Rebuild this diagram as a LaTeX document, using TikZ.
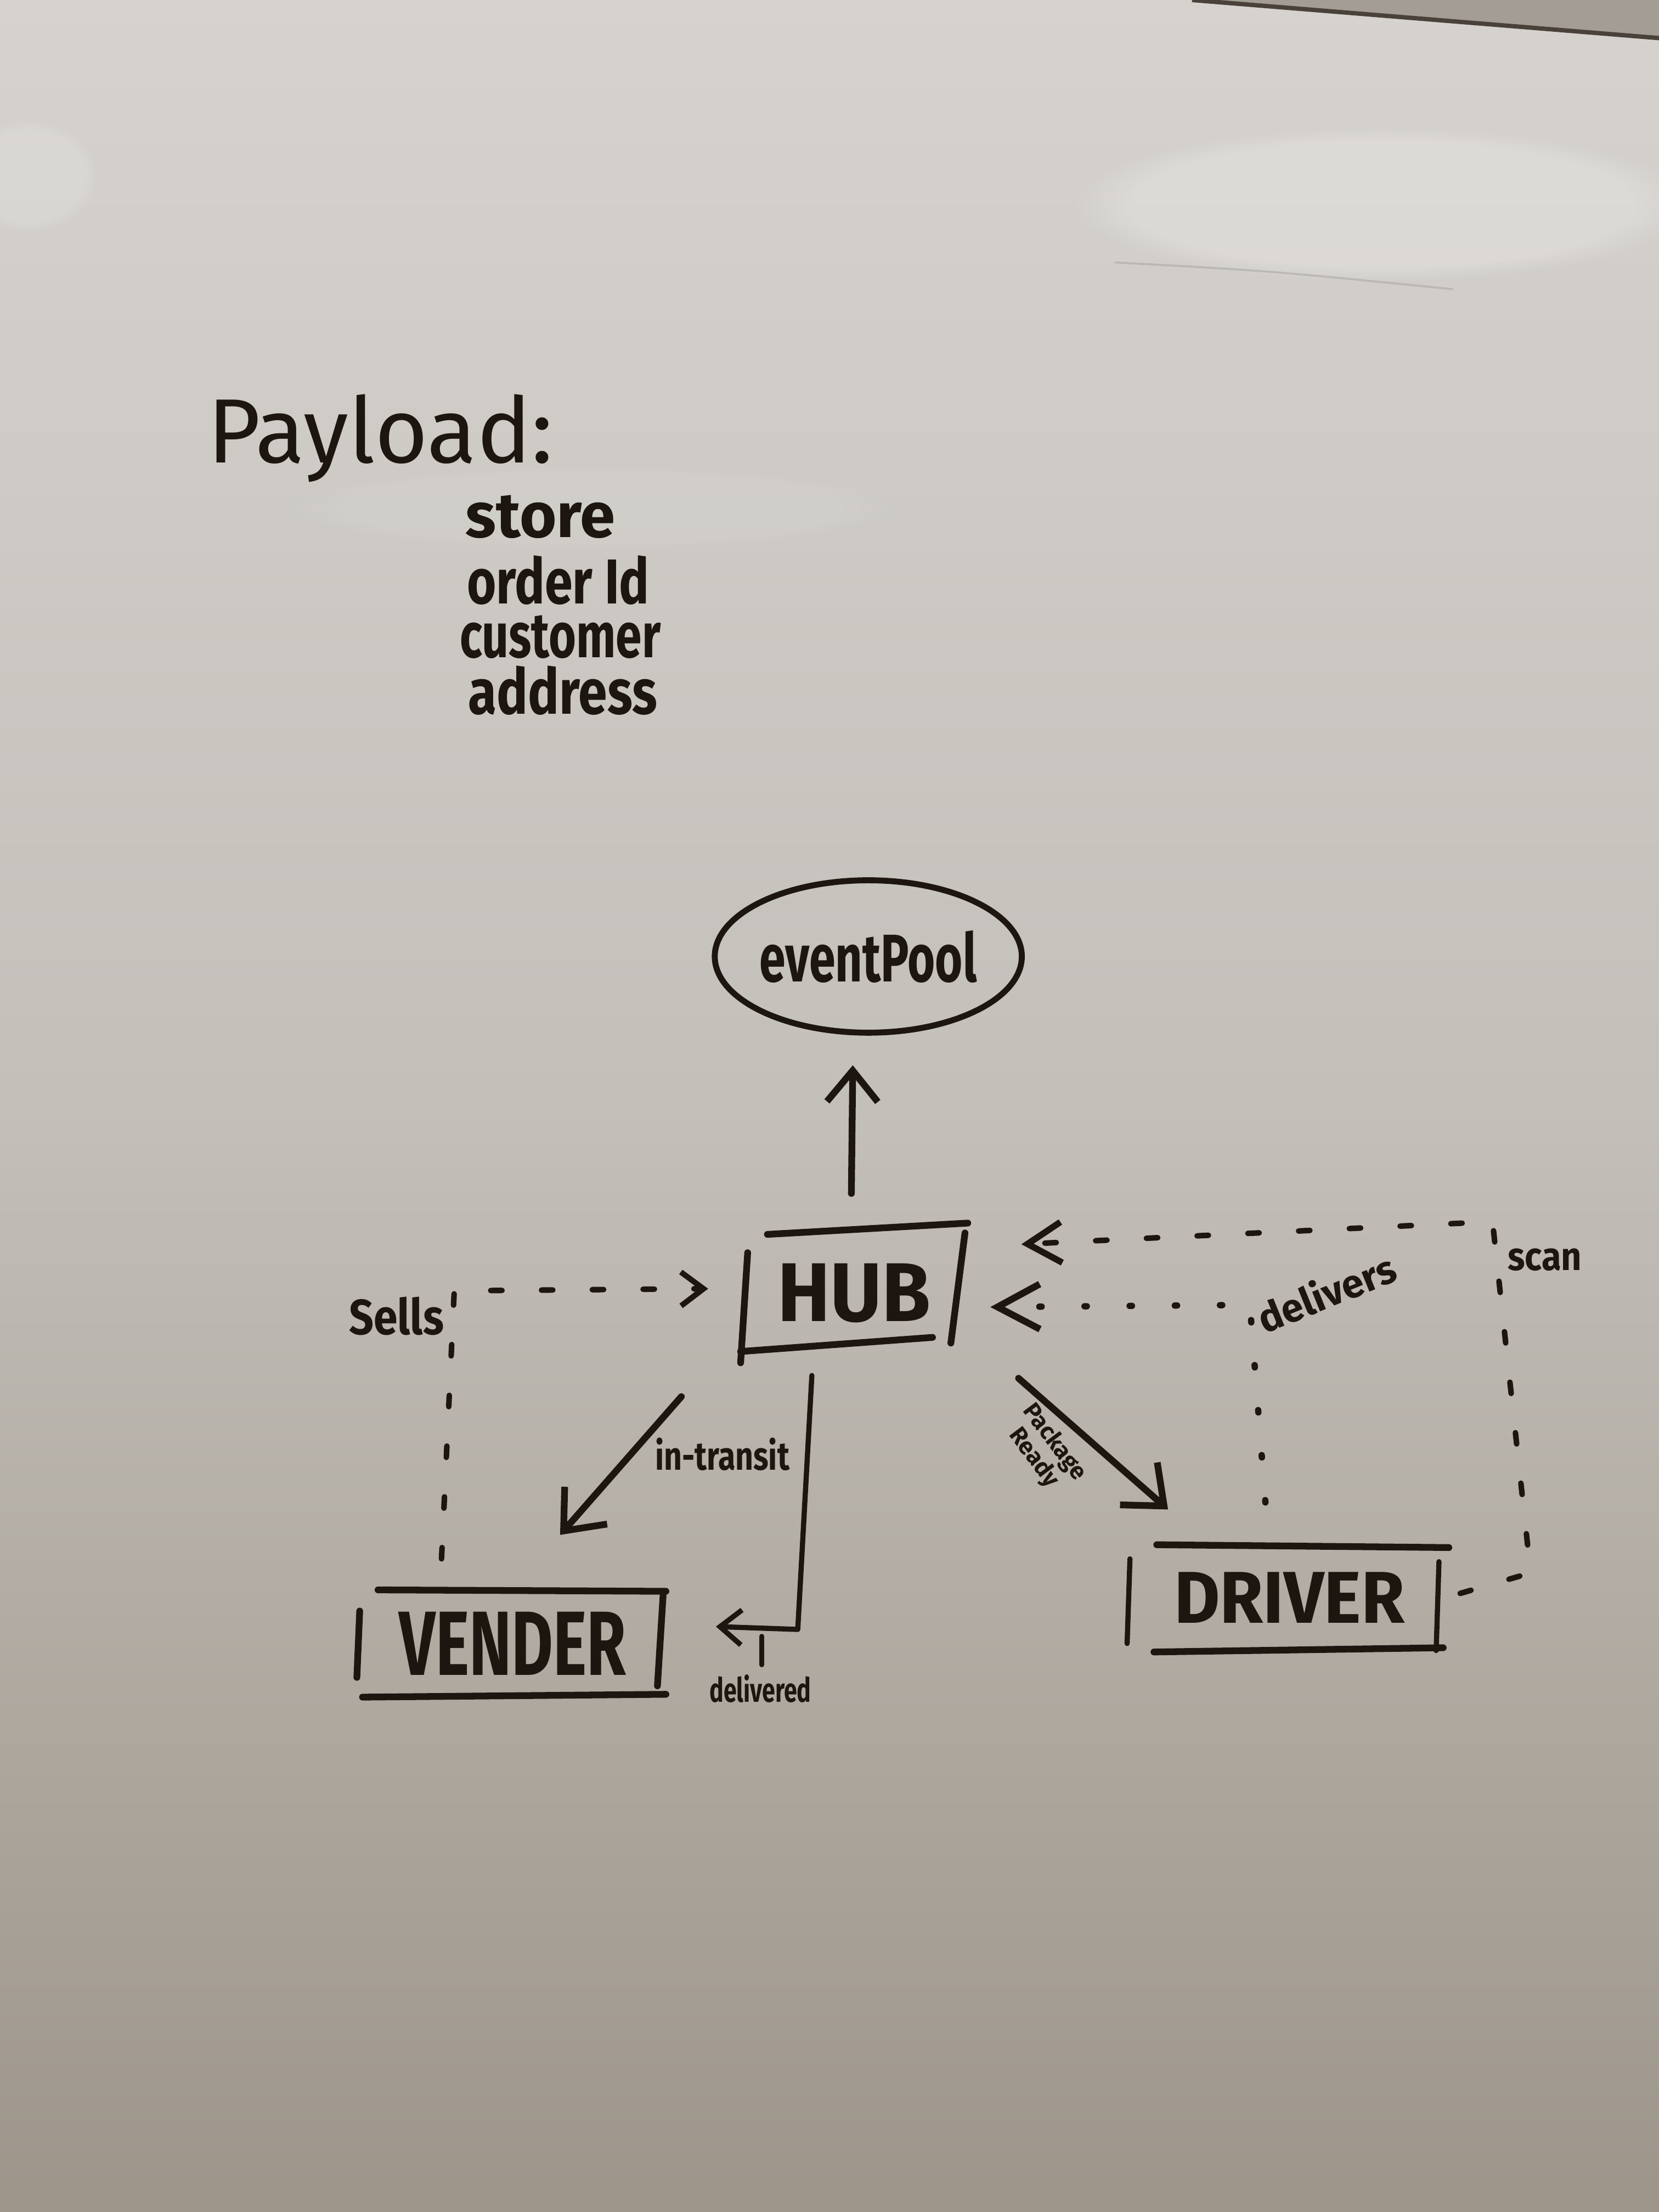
\documentclass[tikz,border=0pt]{standalone}
\usepackage{fontspec}
\setmainfont{Fira Sans}
\usepackage{graphicx}
\usetikzlibrary{arrows.meta,calc,shapes.geometric,fadings}
\definecolor{ink}{HTML}{1D1610}
\definecolor{boardtop}{HTML}{D6D3CF}
\definecolor{boardmid}{HTML}{C3BFB9}
\definecolor{boardbot}{HTML}{9D958A}
\definecolor{wall}{HTML}{A39D95}
\definecolor{frameline}{HTML}{4A423A}
\begin{document}
\begin{tikzpicture}[x=0.025cm,y=-0.025cm,
  pen/.style={draw=ink,line width=3.4pt,line cap=round,line join=round},
  thinpen/.style={draw=ink,line width=2.6pt,line cap=round,line join=round},
  dashline/.style={draw=ink,line width=2.8pt,line cap=round,dash pattern=on 0.2cm off 0.7cm},
  dotline/.style={draw=ink,line width=3.2pt,line cap=round,dash pattern=on 0.04cm off 0.76cm},
  bigtip/.style={-{Straight Barb[length=0.6cm,width=1.0cm]}},
  smalltip/.style={-{Straight Barb[length=0.38cm,width=0.62cm]}},
  boxnode/.style={inner sep=0pt,outer sep=0pt,text=ink},
  word/.style={text=ink,inner sep=0pt,outer sep=0pt},
]
% whiteboard background
\fill[top color=boardtop,bottom color=boardbot,middle color=boardmid] (0,0) rectangle (1176,1568);
\useasboundingbox (0,0) rectangle (1176,1568);
\fill[wall] (845,0) -- (1176,0) -- (1176,27) -- cycle;
\draw[frameline,line width=2.2pt] (845,0) -- (1176,27);
\fill[white,opacity=0.22,path fading=circle with fuzzy edge 20 percent] (980,145) ellipse (220 and 55);
\fill[white,opacity=0.15,path fading=circle with fuzzy edge 20 percent] (20,125) ellipse (50 and 40);
\fill[white,opacity=0.08,path fading=circle with fuzzy edge 20 percent] (420,360) ellipse (220 and 30);
\draw[frameline!60,opacity=0.35,line width=1pt] (790,186) .. controls (900,192) .. (1030,205);

% Payload text
\node[word,anchor=base west,font=\fontsize{46}{50}\selectfont] (payload) at (147,328) {Payload:};
\node[word,anchor=base west,font=\fontsize{32}{36}\selectfont\bfseries] (store) at (330,381) {store};
\node[word,anchor=base west,font=\fontsize{32}{36}\selectfont\bfseries] (order) at (331,428) {\scalebox{0.79}[1]{order Id}};
\node[word,anchor=base west,font=\fontsize{32}{36}\selectfont\bfseries] (customer) at (326,466) {\scalebox{0.74}[1]{customer}};
\node[word,anchor=base west,font=\fontsize{32}{36}\selectfont\bfseries] (address) at (332,506) {\scalebox{0.82}[1]{address}};

% main nodes
\node[ellipse,draw=ink,line width=3pt,minimum width=5.425cm,minimum height=2.7cm,inner sep=0pt,text=ink,
      font=\fontsize{34}{38}\selectfont\bfseries] (pool) at (615.5,678) {\scalebox{0.7}[1]{eventPool}};

\node[boxnode,minimum width=4.025cm,minimum height=2.475cm,font=\fontsize{42}{46}\selectfont\bfseries] (hub) at (605.5,916.5) {\scalebox{0.95}[1]{HUB}};
\draw[pen] ($(hub.north west)+(19,8)$) -- (hub.north east);
\draw[pen] ($(hub.north west)+(5,21)$) -- (hub.south west);
\draw[pen] ($(hub.south west)+(0,-8)$) -- ($(hub.south east)+(-25,-18)$);
\draw[pen] ($(hub.north east)+(-2,7)$) -- ($(hub.south east)+(-12,-14)$);

\node[boxnode,minimum width=5.425cm,minimum height=1.9cm,font=\fontsize{46}{50}\selectfont\bfseries] (vender) at (363.5,1165) {\scalebox{0.7}[1]{VENDER}};
\draw[pen] ($(vender.north west)+(13,0)$) -- ($(vender.north east)+(0,1)$);
\draw[pen] ($(vender.north west)+(0,15)$) -- ($(vender.south west)+(-2,-14)$);
\draw[pen] ($(vender.south west)+(2,0)$) -- ($(vender.south east)+(0,-2)$);
\draw[pen] ($(vender.north east)+(-2,4)$) -- ($(vender.south east)+(-6,-8)$);

\node[boxnode,minimum width=5.65cm,minimum height=1.925cm,font=\fontsize{37}{40}\selectfont\bfseries] (driver) at (914,1132.5) {\scalebox{0.96}[1]{DRIVER}};
\draw[pen] ($(driver.north west)+(19,1)$) -- ($(driver.north east)+(0,3)$);
\draw[thinpen] ($(driver.north west)+(0,11)$) -- ($(driver.south west)+(-2,-6)$);
\draw[pen] ($(driver.south west)+(17,0)$) -- ($(driver.south east)+(-4,-3)$);
\draw[thinpen] ($(driver.north east)+(-7,13)$) -- ($(driver.south east)+(-9,-1)$);

% helper coordinates
\coordinate (sellsCorner) at (322,915);
\coordinate (delivCorner) at (565.5,1155);
\coordinate (delivEnd) at (507.5,1153);
\coordinate (dvCorner) at (886,925);
\coordinate (scanA) at (1085,1115);
\coordinate (scanB) at (1058,866);

% connectors
\draw[pen,-{Straight Barb[length=0.55cm,width=0.9cm]}] ($(hub.north)+(-2,-21)$) -- ($(pool.south)+(-11,21)$);
\draw[pen,bigtip] ($(hub.south west)+(-42,24)$) -- ($(vender.north east)+(-75,-39)$);
\draw[thinpen,smalltip] ($(hub.south)+(-30,9)$) -- (delivCorner) -- (delivEnd);
\draw[thinpen] (540,1160) -- (540,1180);
\draw[pen,bigtip] ($(hub.south east)+(36,11)$) -- ($(driver.north west)+(27,-24)$);
\draw[dashline,-{Straight Barb[length=0.4cm,width=0.6cm,line width=2.8pt]}] ($(vender.north west)+(58,-22)$) -- (sellsCorner) -- ($(hub.west)+(-23,-3)$);
\draw[dotline,-{Straight Barb[length=0.75cm,width=0.8cm,line width=3.4pt]}] ($(driver.north)+(-17,-29)$) -- (dvCorner) -- ($(hub.east)+(16,10)$);
\draw[dashline,-{Straight Barb[length=0.6cm,width=0.72cm,line width=3.2pt]}] ($(driver.east)+(8,-3)$) -- (scanA) -- (scanB) -- ($(hub.north east)+(38,15)$);

% connector labels
\node[word,font=\fontsize{25}{28}\selectfont\bfseries] (sells) at (281,933) {\scalebox{0.87}[1]{Sells}};
\node[word,font=\fontsize{20}{23}\selectfont\bfseries] (intransit) at (512,1031) {\scalebox{0.79}[1]{in-transit}};
\node[word,font=\fontsize{17}{20}\selectfont\bfseries] (delivered) at (539,1197) {\scalebox{0.7}[1]{delivered}};
\node[word,font=\fontsize{12}{13}\selectfont\bfseries,align=center,rotate=-53] (pkg) at (740,1028) {Package\\Ready};
\node[word,font=\fontsize{20}{23}\selectfont\bfseries,rotate=22] (delivers) at (940,916) {delivers};
\node[word,font=\fontsize{20}{23}\selectfont\bfseries] (scan) at (1095,893) {\scalebox{0.9}[1]{scan}};
\end{tikzpicture}
\end{document}
